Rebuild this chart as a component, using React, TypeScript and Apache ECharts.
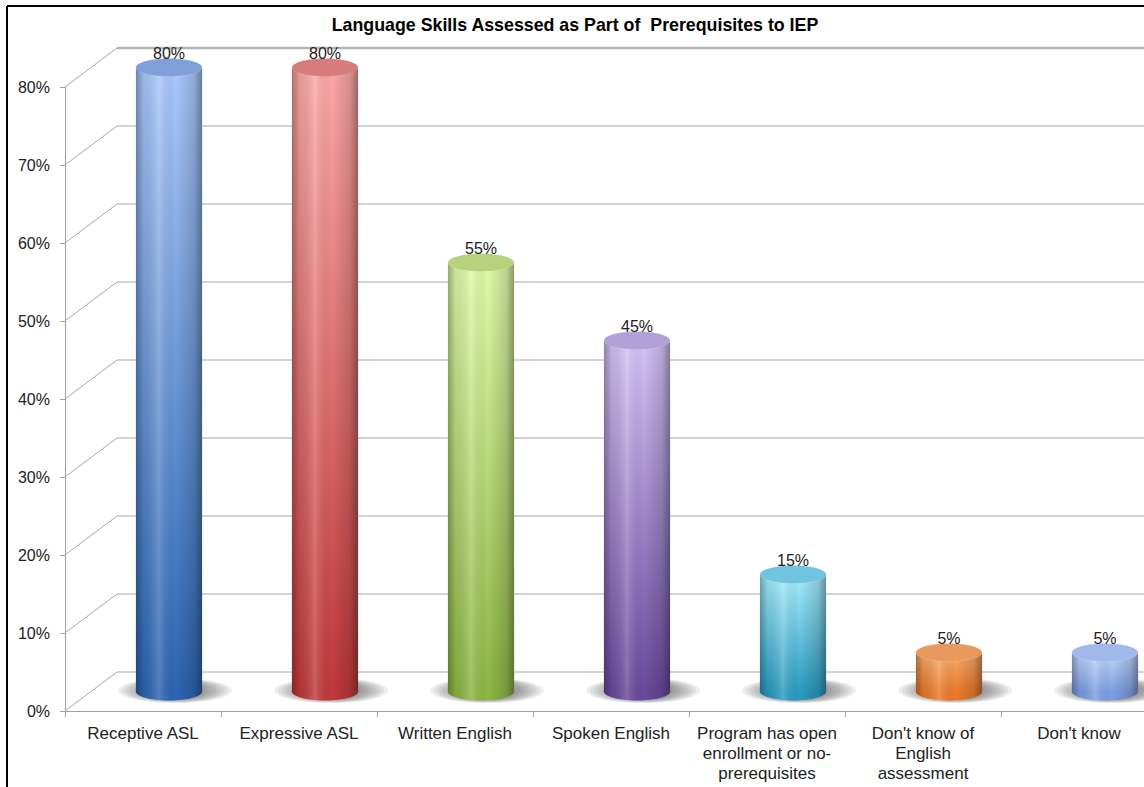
import React, { useEffect, useRef } from "react";
import * as echarts from "echarts";

const title = "Language Skills Assessed as Part of  Prerequisites to IEP";
const categories = [
  "Receptive ASL",
  "Expressive ASL",
  "Written English",
  "Spoken English",
  "Program has open\nenrollment or no-\nprerequisites",
  "Don't know of\nEnglish\nassessment",
  "Don't know",
];
const values = [80, 80, 55, 45, 15, 5, 5];
const yTicks = [0, 10, 20, 30, 40, 50, 60, 70, 80];

const barColors = [
  { top: "#abc8fb", bottom: "#2c65b2", cap: "#7f9fd8" },
  { top: "#fca8a8", bottom: "#c0383a", cap: "#d67c7c" },
  { top: "#defba9", bottom: "#8db644", cap: "#b7d27c" },
  { top: "#d4c4f6", bottom: "#6a499d", cap: "#b2a0d8" },
  { top: "#a8eefd", bottom: "#2a9bc1", cap: "#70c4e0" },
  { top: "#f8ad70", bottom: "#ec7a2a", cap: "#e8995e" },
  { top: "#c4d8fc", bottom: "#7c9ee2", cap: "#a0b9ea" },
];

const FONT = "'Liberation Sans', Arial, sans-serif";

export default function App() {
  const ref = useRef<HTMLDivElement>(null);
  useEffect(() => {
    if (!ref.current) return;
    const chart = echarts.init(ref.current, undefined, { renderer: "svg" });

    const gridRender = (params: any, api: any) => {
      const v = api.value(1);
      const cs = params.coordSys;
      const p = api.coord([0, v]);
      const s = api.size([1, 5]);
      const dx = s[0] / 3;
      const dy = s[1];
      const left = cs.x;
      const right = cs.x + cs.width + 40;
      const top = v === yTicks[yTicks.length - 1];
      return {
        type: "group",
        children: [
          {
            type: "line",
            shape: { x1: left, y1: p[1], x2: left + dx, y2: p[1] - dy },
            style: { stroke: "#a8a8a8", lineWidth: 1 },
          },
          {
            type: "line",
            shape: { x1: left + dx, y1: p[1] - dy, x2: right, y2: p[1] - dy },
            style: { stroke: top ? "#b4b4b4" : "#a8a8a8", lineWidth: top ? 2.5 : 1 },
          },
        ],
      };
    };

    const barRender = (params: any, api: any) => {
      const i = api.value(0);
      const v = api.value(1);
      const c = barColors[i % barColors.length];
      const p = api.coord([i, v]);
      const b = api.coord([i, 0]);
      const s = api.size([1, 5]);
      const dx = s[0] / 3;
      const dy = s[1];
      const cx = p[0] + dx / 2;
      const topY = p[1] - dy / 2;
      const baseY = b[1] - dy / 2;
      const rx = s[0] * 0.212;
      const ry = rx * 0.27;
      const body = new echarts.graphic.LinearGradient(0, 0, 0, 1, [
        { offset: 0, color: c.top },
        { offset: 1, color: c.bottom },
      ]);
      const shade = new echarts.graphic.LinearGradient(0, 0, 1, 0, [
        { offset: 0, color: "rgba(0,0,0,0.32)" },
        { offset: 0.12, color: "rgba(0,0,0,0.08)" },
        { offset: 0.35, color: "rgba(255,255,255,0.18)" },
        { offset: 0.6, color: "rgba(0,0,0,0)" },
        { offset: 0.88, color: "rgba(0,0,0,0.15)" },
        { offset: 1, color: "rgba(0,0,0,0.38)" },
      ]);
      const shadowScales = [1, 0.93, 0.86, 0.79, 0.72, 0.65, 0.58, 0.51];
      const shadows = shadowScales.map((k) => ({
        type: "ellipse",
        shape: {
          cx: cx + 6,
          cy: baseY - 1,
          rx: rx * 1.72 * k,
          ry: ry * 1.4 * (0.45 + 0.55 * k),
        },
        style: { fill: "rgba(60,60,60,0.085)" },
      }));
      return {
        type: "group",
        children: [
          ...shadows,
          {
            type: "ellipse",
            shape: { cx, cy: baseY, rx, ry },
            style: { fill: c.bottom },
          },
          {
            type: "ellipse",
            shape: { cx, cy: baseY, rx, ry },
            style: { fill: shade },
          },
          {
            type: "rect",
            shape: { x: cx - rx, y: topY, width: rx * 2, height: baseY - topY },
            style: { fill: body },
          },
          {
            type: "rect",
            shape: { x: cx - rx, y: topY, width: rx * 2, height: baseY - topY },
            style: { fill: shade },
          },
          {
            type: "ellipse",
            shape: { cx, cy: topY, rx, ry },
            style: { fill: c.cap, stroke: "rgba(255,255,255,0.25)", lineWidth: 0.5 },
          },
          {
            type: "text",
            x: cx,
            y: topY - 14,
            style: {
              text: v + "%",
              fill: "#222",
              font: `16px ${FONT}`,
              align: "center",
              verticalAlign: "middle",
            },
          },
        ],
      };
    };

    chart.setOption({
      animation: false,
      backgroundColor: "#ffffff",
      title: {
        text: title,
        left: 570,
        top: 11,
        textAlign: "center",
        textStyle: { fontFamily: FONT, fontSize: 17.8, fontWeight: "bold", color: "#000" },
      },
      grid: {
        left: 65,
        width: 1092,
        top: 87,
        bottom: 76,
        containLabel: false,
        outerBoundsMode: "none",
      },
      xAxis: {
        type: "category",
        data: categories,
        axisLine: { show: true, lineStyle: { color: "#a0a0a0", width: 1 } },
        axisTick: { show: true, length: 6, lineStyle: { color: "#a0a0a0" } },
        axisLabel: {
          interval: 0,
          margin: 12,
          color: "#222",
          fontFamily: FONT,
          fontSize: 17,
          lineHeight: 20,
        },
        splitLine: { show: false },
      },
      yAxis: {
        type: "value",
        min: 0,
        max: 80,
        interval: 10,
        axisLine: { show: true, lineStyle: { color: "#a0a0a0", width: 1 } },
        axisTick: { show: true, length: 5, lineStyle: { color: "#a0a0a0" } },
        axisLabel: {
          formatter: "{value}%",
          margin: 15,
          color: "#222",
          fontFamily: FONT,
          fontSize: 16,
        },
        splitLine: { show: false },
      },
      graphic: [
        {
          type: "line",
          shape: { x1: 7, y1: 6, x2: 1144, y2: 6 },
          style: { stroke: "#000", lineWidth: 2 },
        },
        {
          type: "line",
          shape: { x1: 7, y1: 6, x2: 7, y2: 787 },
          style: { stroke: "#000", lineWidth: 2 },
        },
      ],
      series: [
        {
          type: "custom",
          renderItem: gridRender,
          data: yTicks.map((t) => [0, t]),
          clip: false,
          silent: true,
          z: 1,
        },
        {
          type: "custom",
          renderItem: barRender,
          data: values.map((v, i) => [i, v]),
          clip: false,
          z: 5,
        },
      ],
    });
    return () => chart.dispose();
  }, []);
  return (
    <div
      ref={ref}
      style={{ position: "absolute", left: 0, top: 0, width: 1144, height: 787 }}
    />
  );
}
